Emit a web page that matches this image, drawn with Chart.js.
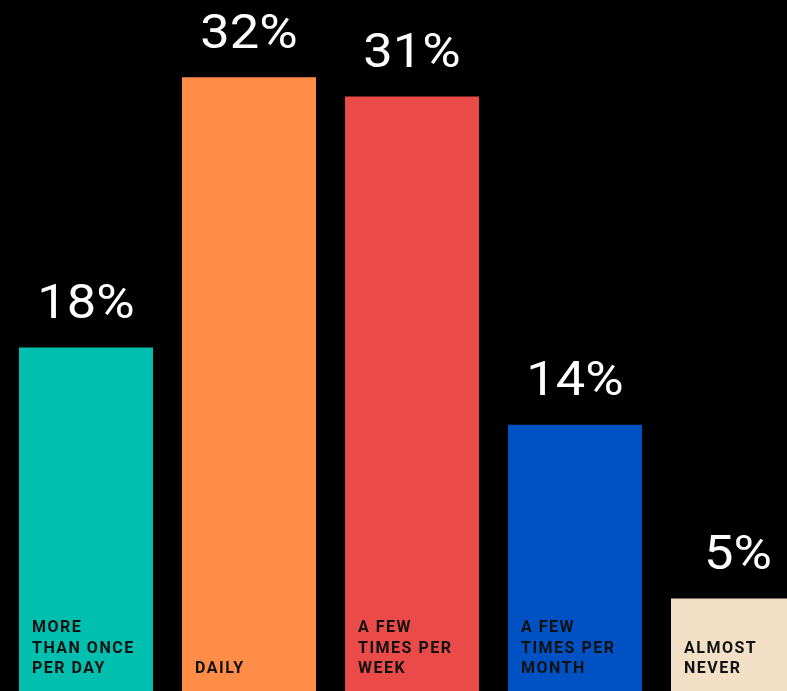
<!DOCTYPE html>
<html>
<head>
<meta charset="utf-8">
<script src="https://cdn.jsdelivr.net/npm/chart.js@4"></script>
<style>
  html, body { margin: 0; padding: 0; background: #000; overflow: hidden; }
  #wrap { width: 787px; height: 691px; overflow: hidden; position: relative; }
  canvas { display: block; }
</style>
</head>
<body>
<div id="wrap"><canvas id="freq-chart" width="824" height="695"></canvas></div>
<script>
// data
var categories = [
  ["MORE", "THAN ONCE", "PER DAY"],
  ["DAILY"],
  ["A FEW", "TIMES PER", "WEEK"],
  ["A FEW", "TIMES PER", "MONTH"],
  ["ALMOST", "NEVER"]
];
var shares = [18, 32, 31, 14, 5];
var barColors = ["#00BFAE", "#FF8D47", "#EA4B48", "#0052C4", "#F2E0C6"];

// draws the % above each bar and the category name inside its foot
var barText = {
  id: "barText",
  afterDatasetsDraw: function(chart) {
    var ctx = chart.ctx;
    var meta = chart.getDatasetMeta(0);
    var base = chart.scales.y.getPixelForValue(0);
    meta.data.forEach(function(bar, i) {
      // value, a bit wider than plain Roboto
      ctx.save();
      ctx.font = "400 49px Roboto";
      ctx.fillStyle = "#fff";
      ctx.textAlign = "center";
      ctx.textBaseline = "alphabetic";
      ctx.translate(bar.x, bar.y - 29.5);
      ctx.scale(1.07, 1);
      ctx.fillText(shares[i] + "%", 0, 0);
      ctx.restore();

      // category
      ctx.save();
      var lines = categories[i];
      ctx.font = "700 16px Roboto";
      ctx.fillStyle = "#111";
      ctx.textAlign = "left";
      ctx.letterSpacing = "1.5px";
      var left = bar.x - bar.width / 2 + 13;
      for (var k = 0; k < lines.length; k++) {
        var y = base - 22 - (lines.length - 1 - k) * 20.5;
        ctx.fillText(lines[k], left, y);
      }
      ctx.restore();
    });
  }
};

new Chart(document.getElementById("freq-chart"), {
  type: "bar",
  data: {
    labels: categories,
    datasets: [{
      data: shares,
      backgroundColor: barColors,
      borderWidth: 0,
      barPercentage: 1,
      categoryPercentage: 0.822
    }]
  },
  options: {
    responsive: false,
    animation: false,
    devicePixelRatio: 1,
    layout: { padding: { left: 4.5, right: 4.5, top: 0, bottom: 0 } },
    plugins: {
      legend: { display: false },
      tooltip: { enabled: false },
      title: { display: false }
    },
    scales: {
      x: { display: false },
      y: { display: false, min: 0, max: 36 }
    }
  },
  plugins: [barText]
});
</script>
</body>
</html>
